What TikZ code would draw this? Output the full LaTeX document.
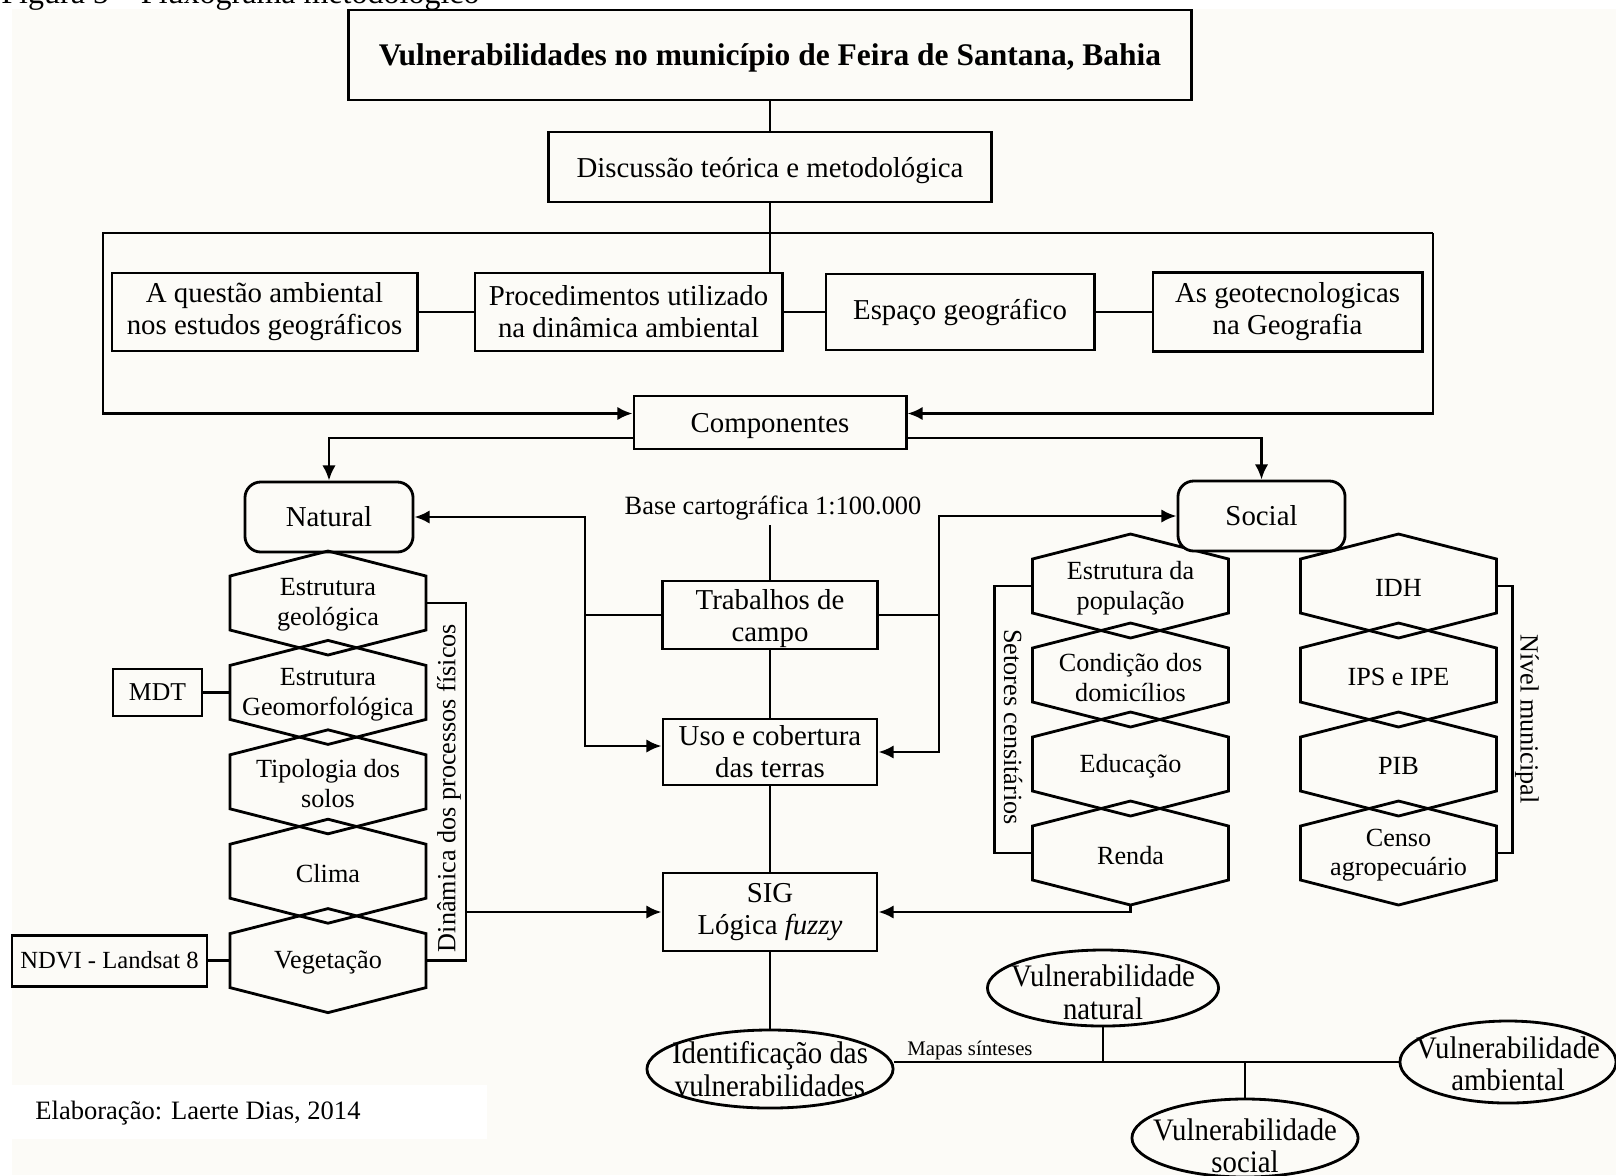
\documentclass[tikz,border=0pt]{standalone}
\usepackage{fontspec}
\setmainfont{Liberation Serif}
\newfontfamily\ovalfont[FakeStretch=0.92]{Liberation Serif}
\usetikzlibrary{positioning,calc,shapes.geometric,arrows.meta}
\definecolor{PaperWhite}{RGB}{252,251,247}

\begin{document}
\begin{tikzpicture}[
                x=0.01cm, y=-0.01cm,
                line width=0.8pt,
                % Hexagono com texto
                hexnode/.pic={
                    \draw (0,-52) -- (98,-27) -- (98,27) -- (0,52) -- (-98,27) -- (-98,-27) -- cycle;
                    \node[hextext] (-t) at (0,0) {#1};
                    \coordinate (-w) at (-98,0);
                    \coordinate (-e) at (98,0);
                    \coordinate (-s) at (0,52);
                },
                box/.style={draw, align=center, inner sep=1pt, font=\fontsize{8.2}{9.1}\selectfont},
                rbox/.style={box, rounded corners=4.5pt, fill=PaperWhite},
                oval/.style={draw, ellipse, inner sep=0pt},
                ovaltext/.style={align=center, inner sep=0pt, font=\ovalfont\fontsize{8.9}{9.3}\selectfont},
                hextext/.style={align=center, inner sep=0pt, yshift=-0.6pt, font=\fontsize{7.45}{8.5}\selectfont},
                sidelabel/.style={inner sep=0pt, font=\fontsize{7.45}{8.5}\selectfont},
                arrow/.style={-{Latex[length=4.3pt,width=3.8pt]}}
            ]
                \useasboundingbox (0,0) rectangle (1616,1175);
                \fill[white] (0,0) rectangle (1616,1175);
                \fill[PaperWhite] (12,9) rectangle (1616,1175);
                \node[anchor=base west, inner sep=0pt, font=\fontsize{9.1}{10}\selectfont] (fig) at (0,3) {Figura 5 – Fluxograma metodológico};

                % Topo
                \node[box, text depth=0pt, minimum width=8.42cm, minimum height=0.90cm, font=\fontsize{8.95}{10}\selectfont\bfseries] (title) at (770,55) {Vulnerabilidades no município de Feira de Santana, Bahia};
                \node[box, text depth=-0.6pt, minimum width=4.43cm, minimum height=0.70cm] (disc) at (770,167) {Discussão teórica e metodológica};

                % Linha 1
                \node[box, minimum width=3.05cm, minimum height=0.78cm] (quest) at (264.5,312) {A questão ambiental\\nos estudos geográficos};
                \node[box, minimum width=3.07cm, minimum height=0.78cm] (proc) at (628.5,312) {Procedimentos utilizado\\na dinâmica ambiental};
                \node[box, minimum width=2.68cm, minimum height=0.76cm] (espaco) at (960,312) {Espaço geográfico};
                \node[box, minimum width=2.69cm, minimum height=0.79cm] (geotec) at (1287.5,312) {As geotecnologicas\\na Geografia};
                \node[box, text depth=0pt, minimum width=2.72cm, minimum height=0.53cm] (comp) at (770,422.5) {Componentes};

                \coordinate (frL) at (103,233);
                \coordinate (frR) at (1433,233);
                \draw (title) -- (disc);
                \draw (disc.south) -- (disc.south |- proc.north);
                \draw (quest) -- (proc);
                \draw (proc) -- (espaco);
                \draw (espaco) -- (geotec);
                \draw[arrow] (frR) -- (frL) |- ($(comp.west)+(0,-9)$);
                \draw[arrow] (frR) |- ($(comp.east)+(0,-9)$);

                % Coluna central
                \node[inner sep=1pt, font=\fontsize{7.5}{9}\selectfont] (base) at (773,508) {Base cartográfica 1:100.000};
                \node[box, text depth=-1pt, minimum width=2.15cm, minimum height=0.68cm] (trab) at (770,615) {Trabalhos de\\campo};
                \node[box, minimum width=2.14cm, minimum height=0.66cm] (uso) at (770,752) {Uso e cobertura\\das terras};
                \node[box, minimum width=2.14cm, minimum height=0.78cm] (sig) at (770,912) {SIG\\Lógica \textit{fuzzy}};

                % Natural
                \node[rbox, minimum width=1.68cm, minimum height=0.70cm] (nat) at (329,517) {Natural};
                \path (328,603) pic (n1) {hexnode={Estrutura\\geológica}};
                \path (328,692.4) pic (n2) {hexnode={Estrutura\\Geomorfológica}};
                \path (328,781.8) pic (n3) {hexnode={Tipologia dos\\solos}};
                \path (328,871.2) pic (n4) {hexnode=Clima};
                \path (328,960.6) pic (n5) {hexnode=Vegetação};
                \node[box, minimum width=0.89cm, minimum height=0.47cm, font=\fontsize{7.3}{8}\selectfont] (mdt) at (157.5,692.4) {MDT};
                \node[box, minimum width=1.95cm, minimum height=0.51cm, font=\fontsize{7}{8}\selectfont] (ndvi) at (109.5,960.6) {NDVI - Landsat 8};
                \node[sidelabel, rotate=90] (din) at (449,788) {Dinâmica dos processos físicos};

                % Social
                \path (1130.5,586) pic (s1) {hexnode={Estrutura da\\população}};
                \path (1130.5,675) pic (s2) {hexnode={Condição dos\\domicílios}};
                \path (1130.5,764) pic (s3) {hexnode=Educação};
                \path (1130.5,853) pic (s4) {hexnode=Renda};
                \path (1398.5,586) pic (m1) {hexnode=IDH};
                \path (1398.5,675) pic (m2) {hexnode={IPS e IPE}};
                \path (1398.5,764) pic (m3) {hexnode=PIB};
                \path (1398.5,853) pic (m4) {hexnode={Censo\\agropecuário}};
                \node[rbox, minimum width=1.67cm, minimum height=0.70cm] (soc) at (1261.5,516) {Social};
                \node[sidelabel, rotate=-90] (set) at (1013,727) {Setores censitários};
                \node[sidelabel, rotate=-90] (niv) at (1527,719) {Nível municipal};

                % Vulnerabilidades
                \node[oval, minimum width=2.46cm, minimum height=0.78cm, label={[ovaltext]center:Identificação das\\vulnerabilidades}] (ident) at (770,1069) {};
                \node[oval, minimum width=2.31cm, minimum height=0.76cm, label={[ovaltext, yshift=-1.2pt]center:Vulnerabilidade\\natural}] (vnat) at (1103,988) {};
                \node[oval, minimum width=2.16cm, minimum height=0.82cm, label={[ovaltext, yshift=-0.5pt]center:Vulnerabilidade\\ambiental}] (vamb) at (1508,1062) {};
                \node[oval, minimum width=2.26cm, minimum height=0.78cm, label={[ovaltext, yshift=-2.2pt]center:Vulnerabilidade\\social}] (vsoc) at (1245,1138) {};
                \node[inner sep=0pt, font=\fontsize{5.9}{7}\selectfont] (mapas) at (970,1050) {Mapas sínteses};

                % Conectores
                \draw[arrow] ($(comp.west)+(0,15.5)$) -| (nat.north);
                \draw[arrow] ($(comp.east)+(0,15.5)$) -| (soc.north);
                \draw (trab.north |- base.south) -- (trab.north);
                \draw (trab) -- (uso);
                \draw (uso) -- (sig);
                \draw (sig) -- (ident);
                \draw[arrow] (trab.west) -- ++(-76,0) coordinate (tl) |- (nat.east);
                \draw[arrow] (tl) |- ($(uso.west)+(0,-6)$);
                \draw[arrow] (trab.east) -- ++(60,0) coordinate (tr) |- (soc.west);
                \draw[arrow] (tr) |- (uso.east);
                \draw (mdt) -- (n2-w);
                \draw (ndvi) -- (n5-w);
                \draw (n1-e) -- ++(40,0) coordinate (dn) |- (n5-e);
                \draw[arrow] (dn |- sig.west) -- (sig.west);
                \draw (s1-w) -- ++(-38,0) |- (s4-w);
                \draw (m1-e) -- ++(16,0) |- (m4-e);
                \draw[arrow] (s4-s) |- (sig.east);
                \draw (ident.east |- vamb.west) -- (vamb.west);
                \draw (vnat.south) -- (vnat.south |- vamb.west);
                \draw (vsoc.north |- vamb.west) -- (vsoc.north);

                % Fonte
                \fill[white] (12,1085) rectangle (487,1139);
                \node[anchor=west, inner sep=0pt, font=\fontsize{7.55}{9}\selectfont] (credit) at (34,1113) {Elaboração: Laerte Dias, 2014};
            \end{tikzpicture}
\end{document}
